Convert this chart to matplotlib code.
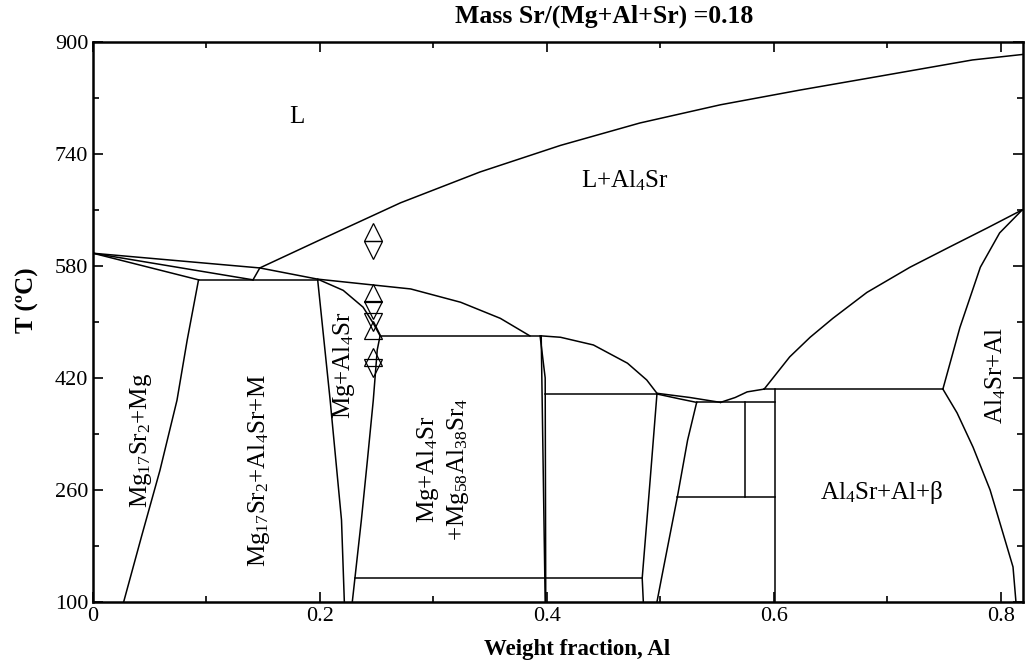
import matplotlib
matplotlib.use('Agg')
import matplotlib.pyplot as plt
from matplotlib.ticker import FixedLocator, MultipleLocator, FuncFormatter

plt.rcParams['font.family'] = ['Liberation Serif', 'DejaVu Serif']
plt.rcParams['mathtext.fontset'] = 'custom'
plt.rcParams['mathtext.rm'] = 'Liberation Serif'
plt.rcParams['mathtext.it'] = 'Liberation Serif:italic'
plt.rcParams['mathtext.bf'] = 'Liberation Serif:bold'

# phase boundaries: x = weight fraction Al, T in degC
liq_x = [0.147, 0.200, 0.271, 0.341, 0.412, 0.482, 0.553, 0.623, 0.694, 0.775, 0.820]
liq_T = [577, 617, 670, 714, 752, 784, 810, 831, 851, 874, 882]

top_x = [0.0, 0.147, 0.198, 0.280, 0.324, 0.359, 0.385]
top_T = [598, 577, 561, 547, 528, 505, 480]

a_x = [0.0, 0.093]
a_T = [598, 560]
b_x = [0.0, 0.141]
b_T = [598, 560]
c_x = [0.147, 0.141]
c_T = [577, 560]

eut_x = [0.093, 0.198]
eut_T = [560, 560]

mgal_x = [0.198, 0.2205, 0.238, 0.247, 0.253, 0.2505, 0.247, 0.2418, 0.2365, 0.2285]
mgal_T = [561, 545, 521, 498, 480, 460, 388, 302, 217, 100]

left1_x = [0.093, 0.083, 0.074, 0.059, 0.043, 0.027]
left1_T = [560, 474, 388, 288, 195, 100]

left2_x = [0.198, 0.209, 0.219, 0.2215]
left2_T = [560, 388, 217, 100]

h480_x = [0.253, 0.394]
h480_T = [480, 480]

v40a_x = [0.394, 0.3985, 0.399]
v40a_T = [480, 420, 100]
v40b_x = [0.395, 0.3985]
v40b_T = [480, 100]

h134_x = [0.231, 0.484]
h134_T = [134, 134]

sol_x = [0.395, 0.412, 0.441, 0.471, 0.488, 0.497]
sol_T = [480, 478, 467, 441, 417, 398]

h397_x = [0.3985, 0.497]
h397_T = [397, 397]

m1_x = [0.497, 0.491, 0.484, 0.485]
m1_T = [397, 274, 134, 100]

m2_x = [0.532, 0.524, 0.515, 0.5015, 0.497]
m2_T = [385, 331, 250, 138, 100]

sliv1_x = [0.497, 0.526, 0.553]
sliv1_T = [398, 392, 385]
sliv2_x = [0.497, 0.517, 0.532]
sliv2_T = [397, 390, 385]

h385_x = [0.532, 0.601]
h385_T = [385, 385]

dip_x = [0.553, 0.566, 0.5765, 0.5915]
dip_T = [385, 392, 400, 404]

h404_x = [0.5915, 0.749]
h404_T = [404, 404]

v57_x = [0.5747, 0.5747]
v57_T = [385, 250]

h250_x = [0.515, 0.601]
h250_T = [250, 250]

v60_x = [0.601, 0.601]
v60_T = [404, 100]

rise_x = [0.5915, 0.614, 0.632, 0.652, 0.682, 0.720, 0.755, 0.788, 0.819]
rise_T = [404, 450, 478, 505, 542, 578, 607, 634, 660]

al_x = [0.819, 0.799, 0.782, 0.764, 0.749]
al_T = [660, 627, 578, 492, 404]

beta_x = [0.749, 0.7615, 0.7756, 0.7906, 0.802, 0.8108, 0.8134]
beta_T = [404, 370, 321, 260, 198, 150, 100]

boundaries = [
    (liq_x, liq_T), (top_x, top_T), (a_x, a_T), (b_x, b_T), (c_x, c_T),
    (eut_x, eut_T), (mgal_x, mgal_T), (left1_x, left1_T), (left2_x, left2_T),
    (h480_x, h480_T), (v40a_x, v40a_T), (v40b_x, v40b_T), (h134_x, h134_T),
    (sol_x, sol_T), (h397_x, h397_T), (m1_x, m1_T), (m2_x, m2_T),
    (sliv1_x, sliv1_T), (sliv2_x, sliv2_T), (h385_x, h385_T), (dip_x, dip_T),
    (h404_x, h404_T), (v57_x, v57_T), (h250_x, h250_T), (v60_x, v60_T),
    (rise_x, rise_T), (al_x, al_T), (beta_x, beta_T),
]

# experimental points (heating / cooling)
exp_x = 0.247
up_T = [628, 541, 488, 450]
down_T = [602, 517, 500, 434]

y_ticks = [100, 260, 420, 580, 740, 900]
y_minor = [180, 340, 500, 660, 820]

fig = plt.figure(figsize=(10.30, 6.67), dpi=100)
ax = fig.add_axes([0.0903, 0.0975, 0.9029, 0.8399])

for bx, bT in boundaries:
    ax.plot(bx, bT, color='black', lw=1.1)

ax.plot([exp_x] * len(up_T), up_T, linestyle='none', marker='^', ms=13,
        mfc='none', mec='black', mew=0.9)
ax.plot([exp_x] * len(down_T), down_T, linestyle='none', marker='v', ms=13,
        mfc='none', mec='black', mew=0.9)

ax.set_xlim(0, 0.8196)
ax.set_ylim(100, 900)
ax.xaxis.set_major_locator(MultipleLocator(0.2))
ax.xaxis.set_minor_locator(MultipleLocator(0.1))
ax.yaxis.set_major_locator(FixedLocator(y_ticks))
ax.yaxis.set_minor_locator(FixedLocator(y_minor))
ax.xaxis.set_major_formatter(FuncFormatter(lambda v, p: '%g' % round(v, 2)))
ax.tick_params(which='both', direction='in', top=True, right=True,
               labelsize=16, width=1.2)
ax.tick_params(which='major', length=7)
ax.tick_params(which='minor', length=4)
for s in ax.spines.values():
    s.set_linewidth(1.8)

fs = 18
ax.text(0.18, 792, 'L', fontsize=fs, ha='center', va='center')
ax.text(0.469, 702, 'L+Al$_4$Sr', fontsize=fs, ha='center', va='center')
ax.text(0.042, 331, 'Mg$_{17}$Sr$_2$+Mg', fontsize=fs, ha='center', va='center', rotation=90)
ax.text(0.146, 288, 'Mg$_{17}$Sr$_2$+Al$_4$Sr+M', fontsize=fs, ha='center', va='center', rotation=90)
ax.text(0.221, 438, 'Mg+Al$_4$Sr', fontsize=fs, ha='center', va='center', rotation=90)
ax.text(0.295, 290, 'Mg+Al$_4$Sr', fontsize=fs, ha='center', va='center', rotation=90)
ax.text(0.322, 290, '+Mg$_{58}$Al$_{38}$Sr$_4$', fontsize=fs, ha='center', va='center', rotation=90)
ax.text(0.6954, 256, 'Al$_4$Sr+Al+β', fontsize=fs, ha='center', va='center')
ax.text(0.7959, 424, 'Al$_4$Sr+Al', fontsize=fs, ha='center', va='center', rotation=90)

fig.text(0.587, 0.975, 'Mass Sr/(Mg+Al+Sr) =0.18', fontsize=18.5, fontweight='bold',
         ha='center', va='center')
fig.text(0.560, 0.026, 'Weight fraction, Al', fontsize=16.5, fontweight='bold',
         ha='center', va='center')
fig.text(0.027, 0.55, 'T (ºC)', fontsize=18, fontweight='bold',
         ha='center', va='center', rotation=90)

fig.savefig('out.png', dpi=100)
